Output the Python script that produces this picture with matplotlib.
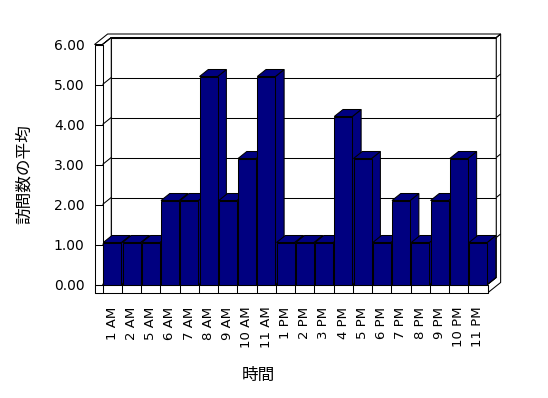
import numpy as np
import matplotlib
matplotlib.use('Agg')
import matplotlib.pyplot as plt
from matplotlib.patches import Polygon

# data
hours = ['1 AM', '2 AM', '5 AM', '6 AM', '7 AM', '8 AM', '9 AM', '10 AM', '11 AM',
         '1 PM', '2 PM', '3 PM', '4 PM', '5 PM', '6 PM', '7 PM', '8 PM', '9 PM',
         '10 PM', '11 PM']
avg_visits = [1.05, 1.05, 1.05, 2.1, 2.1, 5.2, 2.1, 3.15, 5.2, 1.05,
              1.05, 1.05, 4.2, 3.15, 1.05, 2.1, 1.05, 2.1, 3.15, 1.05]
y_ticks = [0, 1, 2, 3, 4, 5, 6]

# 3d box look (in data units)
DX, DY = 0.455, 0.175      # shift from front plane to back wall
WALL = 0.415               # left wall thickness
FLOOR = 0.2125             # floor thickness
BACK = 1.5                 # back wall outer depth
LINE = 0.75
BAR_COLOR = '#000080'

n = len(hours)
ymax = y_ticks[-1]


def P(x, y, z):
    return (x + z * DX, y + z * DY)


def face(ax, pts, fc='white', zorder=1):
    ax.add_patch(Polygon(pts, closed=True, fc=fc, ec='black', lw=LINE,
                         zorder=zorder, clip_on=False, joinstyle='miter'))


def seg(ax, a, b, zorder=2):
    ax.plot([a[0], b[0]], [a[1], b[1]], color='black', lw=LINE,
            zorder=zorder, clip_on=False, solid_capstyle='butt')


fig = plt.figure(figsize=(5.48, 3.98), dpi=100)
# half pixel offsets keep the horizontal edges on pixel centres
ax = fig.add_axes([102.5 / 548, (398 - 284.5) / 398, 385 / 548, 240 / 398])
ax.set_xlim(0, n)
ax.set_ylim(0, ymax)
for s in ax.spines.values():
    s.set_visible(False)
ax.patch.set_visible(False)

# back wall
face(ax, [P(0, 0, 1), P(n, 0, 1), P(n, ymax, 1), P(0, ymax, 1)])
# right side of back wall + floor
face(ax, [P(n, -FLOOR, 0), P(n, -FLOOR, BACK), P(n, ymax, BACK),
          P(n, ymax, 1), P(n, 0, 1), P(n, 0, 0)])
# top of walls
face(ax, [P(-WALL, ymax, 0), P(0, ymax, 0), P(0, ymax, 1), P(n, ymax, 1),
          P(n, ymax, BACK), P(-WALL, ymax, BACK)])
# left wall inner side
face(ax, [P(0, 0, 0), P(0, ymax, 0), P(0, ymax, 1), P(0, 0, 1)])
# left wall front
face(ax, [P(-WALL, -FLOOR, 0), P(0, -FLOOR, 0), P(0, ymax, 0), P(-WALL, ymax, 0)])
# floor front and top
face(ax, [P(-WALL, -FLOOR, 0), P(n, -FLOOR, 0), P(n, 0, 0), P(-WALL, 0, 0)])
face(ax, [P(0, 0, 0), P(n, 0, 0), P(n, 0, 1), P(0, 0, 1)])

# gridlines
for v in y_ticks:
    seg(ax, P(-WALL, v, 0), P(0, v, 0))
    if v > 0:
        seg(ax, P(0, v, 0), P(0, v, 1))
        seg(ax, P(0, v, 1), P(n, v, 1))
        seg(ax, P(n, v, 1), P(n, v, BACK))
# category ticks on floor front
for i in range(n + 1):
    seg(ax, P(i, -FLOOR, 0), P(i, 0, 0))

# bars, left to right so right neighbours cover the side faces
for i, v in enumerate(avg_visits):
    x0, x1 = i + 0.04, i + 0.98
    zo = 10 + i
    face(ax, [P(x1, 0, 0), P(x1, 0, 1), P(x1, v, 1), P(x1, v, 0)], BAR_COLOR, zo)
    face(ax, [P(x0, v, 0), P(x1, v, 0), P(x1, v, 1), P(x0, v, 1)], BAR_COLOR, zo)
    face(ax, [P(x0, 0, 0), P(x1, 0, 0), P(x1, v, 0), P(x0, v, 0)], BAR_COLOR, zo)

ax.set_yticks(y_ticks, labels=[f'{t:.2f}' for t in y_ticks])
ax.set_xticks(np.arange(n) + 0.5, labels=hours, rotation=90)
ax.tick_params(axis='y', length=0, pad=13, labelsize=10)
ax.tick_params(axis='x', length=0, pad=16, labelsize=9.5)

fig.text(258 / 548, 1 - 375 / 398, '時間', ha='center', va='center',
         fontsize=12, family=['Noto Sans CJK JP', 'DejaVu Sans'])
fig.text(24 / 548, 1 - 174 / 398, '訪問数の平均', ha='center', va='center',
         rotation=90, fontsize=12, family=['Noto Sans CJK JP', 'DejaVu Sans'])

fig.savefig('out.png', dpi=100)
